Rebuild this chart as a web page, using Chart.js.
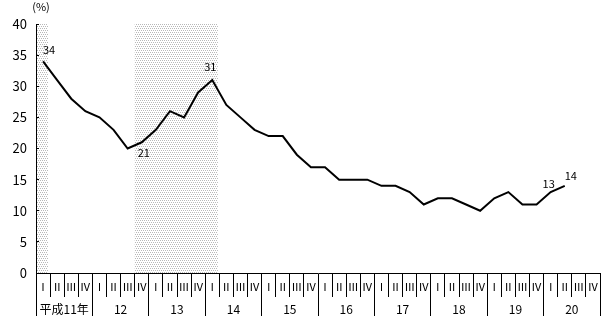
<!DOCTYPE html>
<html><head><meta charset="utf-8">
<script src="https://cdn.jsdelivr.net/npm/chart.js@4/dist/chart.umd.min.js"></script>
<style>html,body{margin:0;padding:0;background:#fff}canvas{display:block}</style>
</head><body>
<canvas id="c" width="605" height="323"></canvas>
<script>
// ---- data ----
const quarterNames = ['Ⅰ','Ⅱ','Ⅲ','Ⅳ'];
const yearLabels = ['平成11年','12','13','14','15','16','17','18','19','20'];
const quarterLabels = [];
yearLabels.forEach(() => quarterNames.forEach(q => quarterLabels.push(q)));
const rates = [34,31,28,26,25,23,20,21,23,26,25,29,31,27,25,23,22,22,19,17,17,15,15,15,14,14,13,11,12,12,11,10,12,13,11,11,13,14,null,null];
const labeledPoints = [0,7,12,36,37];
const shadedPeriods = [[-0.5,0.35],[6.5,12.4]]; // in category index units
const yMin = 0, yMax = 40, yStep = 5;

// ---- styles ----
const FONT = "'Noto Sans CJK JP', 'Noto Sans', sans-serif";
const labelOffsets = {0:[6,-12],7:[2,11],12:[-2,-13],36:[-2,-8],37:[6,-10]};

function makePattern(ctx){
  const p = document.createElement('canvas');
  p.width = 4; p.height = 4;
  const g = p.getContext('2d');
  g.fillStyle = '#fff'; g.fillRect(0,0,4,4);
  g.fillStyle = '#b8b8b8';
  g.fillRect(0,0,1,1); g.fillRect(2,0,1,1);
  g.fillRect(1,2,1,1); g.fillRect(3,2,1,1);
  return ctx.createPattern(p,'repeat');
}

const shadePlugin = {
  id:'shade',
  beforeDraw(chart){
    const {ctx, chartArea, scales:{x}} = chart;
    ctx.save();
    ctx.fillStyle = makePattern(ctx);
    shadedPeriods.forEach(([a,b]) => {
      const x1 = x.getPixelForValue(a), x2 = x.getPixelForValue(b);
      ctx.fillRect(x1, chartArea.top, x2 - x1, chartArea.bottom - chartArea.top);
    });
    ctx.restore();
  }
};

const textPlugin = {
  id:'texts',
  afterDraw(chart){
    const {ctx, chartArea} = chart;
    const meta = chart.getDatasetMeta(0);
    ctx.save();
    ctx.fillStyle = '#000';
    ctx.textAlign = 'center';
    ctx.textBaseline = 'middle';
    ctx.font = '11px ' + FONT;
    labeledPoints.forEach(i => {
      const el = meta.data[i];
      const [dx,dy] = labelOffsets[i];
      ctx.fillText(String(rates[i]), el.x + dx, el.y + dy);
    });
    ctx.font = '11px ' + FONT;
    ctx.fillText('(%)', chartArea.left + 5, chartArea.top - 17);
    ctx.restore();
  }
};

new Chart(document.getElementById('c'), {
  type:'line',
  data:{
    labels: quarterLabels,
    datasets:[{
      data: rates,
      borderColor:'#000',
      borderWidth:2,
      pointRadius:0,
      tension:0,
      fill:false
    }]
  },
  options:{
    responsive:false,
    animation:false,
    devicePixelRatio:1,
    layout:{padding:{top:24,right:5,left:0,bottom:0}},
    plugins:{legend:{display:false},tooltip:{enabled:false},title:{display:false}},
    scales:{
      x:{
        type:'category', position:'bottom', offset:true,
        grid:{offset:true, drawOnChartArea:false, tickLength:24, color:'#000', lineWidth:1},
        border:{display:true, color:'#000', width:1},
        ticks:{autoSkip:false, maxRotation:0, minRotation:0, padding:-17, color:'#000', font:{family:FONT, size:11}},
        afterFit(s){ s.height = 24; }
      },
      x2:{
        type:'category', labels: yearLabels, position:'bottom', offset:true,
        grid:{offset:true, drawOnChartArea:false, tickLength:19, color:'#000', lineWidth:1},
        border:{display:false},
        ticks:{autoSkip:false, maxRotation:0, minRotation:0, padding:-14, color:'#000', font:{family:FONT, size:12}},
        afterFit(s){ s.height = 26; }
      },
      y:{
        min:yMin, max:yMax,
        ticks:{stepSize:yStep, padding:12, color:'#000', font:{family:FONT, size:13}},
        grid:{drawOnChartArea:false, tickLength:-3, color:'#000'},
        border:{display:true, color:'#000', width:1},
        afterFit(s){ s.width = 36; }
      }
    }
  },
  plugins:[shadePlugin, textPlugin]
});
</script>
</body></html>
